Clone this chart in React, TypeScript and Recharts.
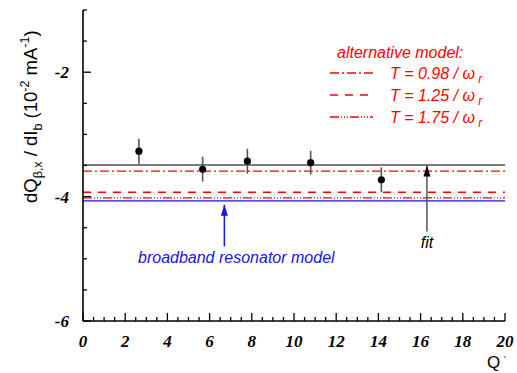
import React from "react";
import {
  ComposedChart,
  Scatter,
  ErrorBar,
  XAxis,
  YAxis,
  ReferenceLine,
  ReferenceDot,
} from "recharts";

// measured points (Q' vs tune slope)
const qPrime = [2.65, 5.67, 7.79, 10.79, 14.14];
const tuneSlope = [-3.27, -3.56, -3.43, -3.455, -3.73];
const tuneErr = [0.2, 0.2, 0.2, 0.19, 0.2];

// horizontal model levels
const fitLevel = -3.49;
const modelLabels = ["0.98", "1.25", "1.75"];
const modelLevels = [-3.59, -3.93, -4.02];
const broadbandLevel = -4.07;

// annotation arrows (in data units)
const fitArrow = { x: 16.3, top: -3.5, bottom: -4.56 };
const bbArrow = { x: 6.7, top: -4.13, bottom: -4.8 };

const xMajor = [0, 2, 4, 6, 8, 10, 12, 14, 16, 18, 20];
const yMajor = [-2, -4, -6];
const xTicks = Array.from({ length: 41 }, (_, i) => i * 0.5);
const yTicks = Array.from({ length: 11 }, (_, i) => -6 + i * 0.5);

const modelDash = ["9 3 2 3", "8 7", "9 2 1 2 1 2 1 2"];
const RED = "#ff0000";
const BLUE = "#1515e0";

const points = qPrime.map((x, i) => ({ x, y: tuneSlope[i], err: tuneErr[i] }));

const isMajor = (v: number, majors: number[]) =>
  majors.some((m) => Math.abs(m - v) < 1e-6);

const tickFont = {
  fontFamily: "'Liberation Serif', 'Times New Roman', serif",
  fontWeight: 700,
  fontStyle: "italic",
  fontSize: 17,
};

// ticks point into the plot; labels only on bottom / left
const makeTick =
  (side: "bottom" | "top" | "left" | "right", majors: number[], showLabel: boolean) =>
  (props: any) => {
    const { x, y, payload } = props;
    const v = payload.value;
    const major = isMajor(v, majors);
    const len = major ? 8 : 4;
    let x2 = x;
    let y2 = y;
    if (side === "bottom") y2 = y - len;
    if (side === "top") y2 = y + len;
    if (side === "left") x2 = x + len;
    if (side === "right") x2 = x - len;
    return (
      <g>
        <line x1={x} y1={y} x2={x2} y2={y2} stroke="#000" strokeWidth={1.3} />
        {showLabel && major && side === "bottom" && (
          <text x={x} y={y + 26} textAnchor="middle" fill="#000" style={tickFont}>
            {v}
          </text>
        )}
        {showLabel && major && side === "left" && (
          <text x={x - 14} y={y + 6} textAnchor="end" fill="#000" style={tickFont}>
            {v}
          </text>
        )}
      </g>
    );
  };

const arrowHead = (color: string) => (props: any) => {
  const { cx, cy } = props;
  return (
    <path
      d={`M${cx},${cy} L${cx - 3.5},${cy + 11} L${cx + 3.5},${cy + 11} Z`}
      fill={color}
    />
  );
};

const sans = "'Liberation Sans', Arial, sans-serif";

export default function App() {
  return (
    <div style={{ position: "absolute", left: 0, top: 0, width: 517, height: 373, background: "#fff" }}>
      <ComposedChart
        width={517}
        height={373}
        margin={{ top: 10, right: 12, left: 0, bottom: 0 }}
      >
        <XAxis
          xAxisId="b"
          dataKey="x"
          type="number"
          domain={[0, 20]}
          ticks={xTicks}
          interval={0}
          height={52}
          tickSize={0}
          tickMargin={0}
          tickLine={false}
          axisLine={{ stroke: "#000", strokeWidth: 1.6 }}
          tick={makeTick("bottom", xMajor, true)}
          allowDataOverflow
        />
        <XAxis
          xAxisId="t"
          orientation="top"
          dataKey="x"
          type="number"
          domain={[0, 20]}
          ticks={xTicks}
          interval={0}
          height={0}
          tickSize={0}
          tickMargin={0}
          tickLine={false}
          axisLine={{ stroke: "#000", strokeWidth: 1.6 }}
          tick={makeTick("top", xMajor, false)}
          allowDataOverflow
        />
        <YAxis
          yAxisId="l"
          dataKey="y"
          type="number"
          domain={[-6, -1]}
          ticks={yTicks}
          interval={0}
          width={83}
          tickSize={0}
          tickMargin={0}
          tickLine={false}
          axisLine={{ stroke: "#000", strokeWidth: 1.6 }}
          tick={makeTick("left", yMajor, true)}
          allowDataOverflow
        />
        <YAxis
          yAxisId="r"
          orientation="right"
          dataKey="y"
          type="number"
          domain={[-6, -1]}
          ticks={yTicks}
          interval={0}
          width={0}
          tickSize={0}
          tickMargin={0}
          tickLine={false}
          axisLine={{ stroke: "#000", strokeWidth: 1.6 }}
          tick={makeTick("right", yMajor, false)}
          allowDataOverflow
        />

        <ReferenceLine xAxisId="b" yAxisId="l" y={broadbandLevel} stroke={BLUE} strokeWidth={1.3} />
        {modelLevels.map((lv, i) => (
          <ReferenceLine
            key={i}
            xAxisId="b"
            yAxisId="l"
            y={lv}
            stroke={RED}
            strokeWidth={1.3}
            strokeDasharray={modelDash[i]}
          />
        ))}
        <ReferenceLine xAxisId="b" yAxisId="l" y={fitLevel} stroke="#7a7a7a" strokeWidth={2} />

        <ReferenceLine
          xAxisId="b"
          yAxisId="l"
          segment={[
            { x: fitArrow.x, y: fitArrow.top },
            { x: fitArrow.x, y: fitArrow.bottom },
          ]}
          stroke="#555"
          strokeWidth={1.5}
        />
        <ReferenceDot xAxisId="b" yAxisId="l" x={fitArrow.x} y={fitArrow.top} shape={arrowHead("#000")} />
        <ReferenceLine
          xAxisId="b"
          yAxisId="l"
          segment={[
            { x: bbArrow.x, y: bbArrow.top },
            { x: bbArrow.x, y: bbArrow.bottom },
          ]}
          stroke={BLUE}
          strokeWidth={1.5}
        />
        <ReferenceDot xAxisId="b" yAxisId="l" x={bbArrow.x} y={bbArrow.top} shape={arrowHead(BLUE)} />

        <Scatter
          xAxisId="b"
          yAxisId="l"
          data={points}
          fill="#000"
          isAnimationActive={false}
          shape={(p: any) => <circle cx={p.cx} cy={p.cy} r={3.6} fill="#000" />}
        >
          <ErrorBar dataKey="err" direction="y" width={0} stroke="#555" strokeWidth={1.6} />
        </Scatter>
      </ComposedChart>

      <svg
        width={517}
        height={373}
        style={{ position: "absolute", left: 0, top: 0, pointerEvents: "none" }}
      >
        {/* y axis title */}
        <text
          transform="translate(37,203) rotate(-90)"
          fontFamily={sans}
          fontSize={18.5}
          fill="#000"
        >
          dQ
          <tspan fontSize={12.5} dy={5}>β,x</tspan>
          <tspan dy={-5}> / dI</tspan>
          <tspan fontSize={12.5} dy={5}>b</tspan>
          <tspan dy={-5}> (10</tspan>
          <tspan fontSize={12.5} dy={-8}>-2</tspan>
          <tspan dy={8}> mA</tspan>
          <tspan fontSize={12.5} dy={-8}>-1</tspan>
          <tspan dy={8}>)</tspan>
        </text>

        {/* x axis title */}
        <text x={487} y={368} fontFamily={sans} fontSize={17} fill="#000">
          Q
        </text>
        <text x={504} y={362} fontFamily={sans} fontSize={9} fill="#000">
          '
        </text>

        {/* legend */}
        <text x={337} y={58} fontFamily={sans} fontSize={16} fontStyle="italic" fill={RED}>
          alternative model:
        </text>
        {modelLabels.map((lab, i) => {
          const cy = 73 + i * 22;
          return (
            <g key={lab}>
              <line
                x1={330}
                x2={373}
                y1={cy}
                y2={cy}
                stroke={RED}
                strokeWidth={1.3}
                strokeDasharray={modelDash[i]}
              />
              <text x={390} y={cy + 6} fontFamily={sans} fontSize={16} fontStyle="italic" fill={RED}>
                T = {lab} / ω
                <tspan fontSize={12} dy={4}> r</tspan>
              </text>
            </g>
          );
        })}

        {/* annotations */}
        <text x={427} y={248} textAnchor="middle" fontFamily={sans} fontSize={16} fontStyle="italic" fill="#000">
          fit
        </text>
        <text x={138} y={263} fontFamily={sans} fontSize={16} fontStyle="italic" fill={BLUE}>
          broadband resonator model
        </text>
      </svg>
    </div>
  );
}
